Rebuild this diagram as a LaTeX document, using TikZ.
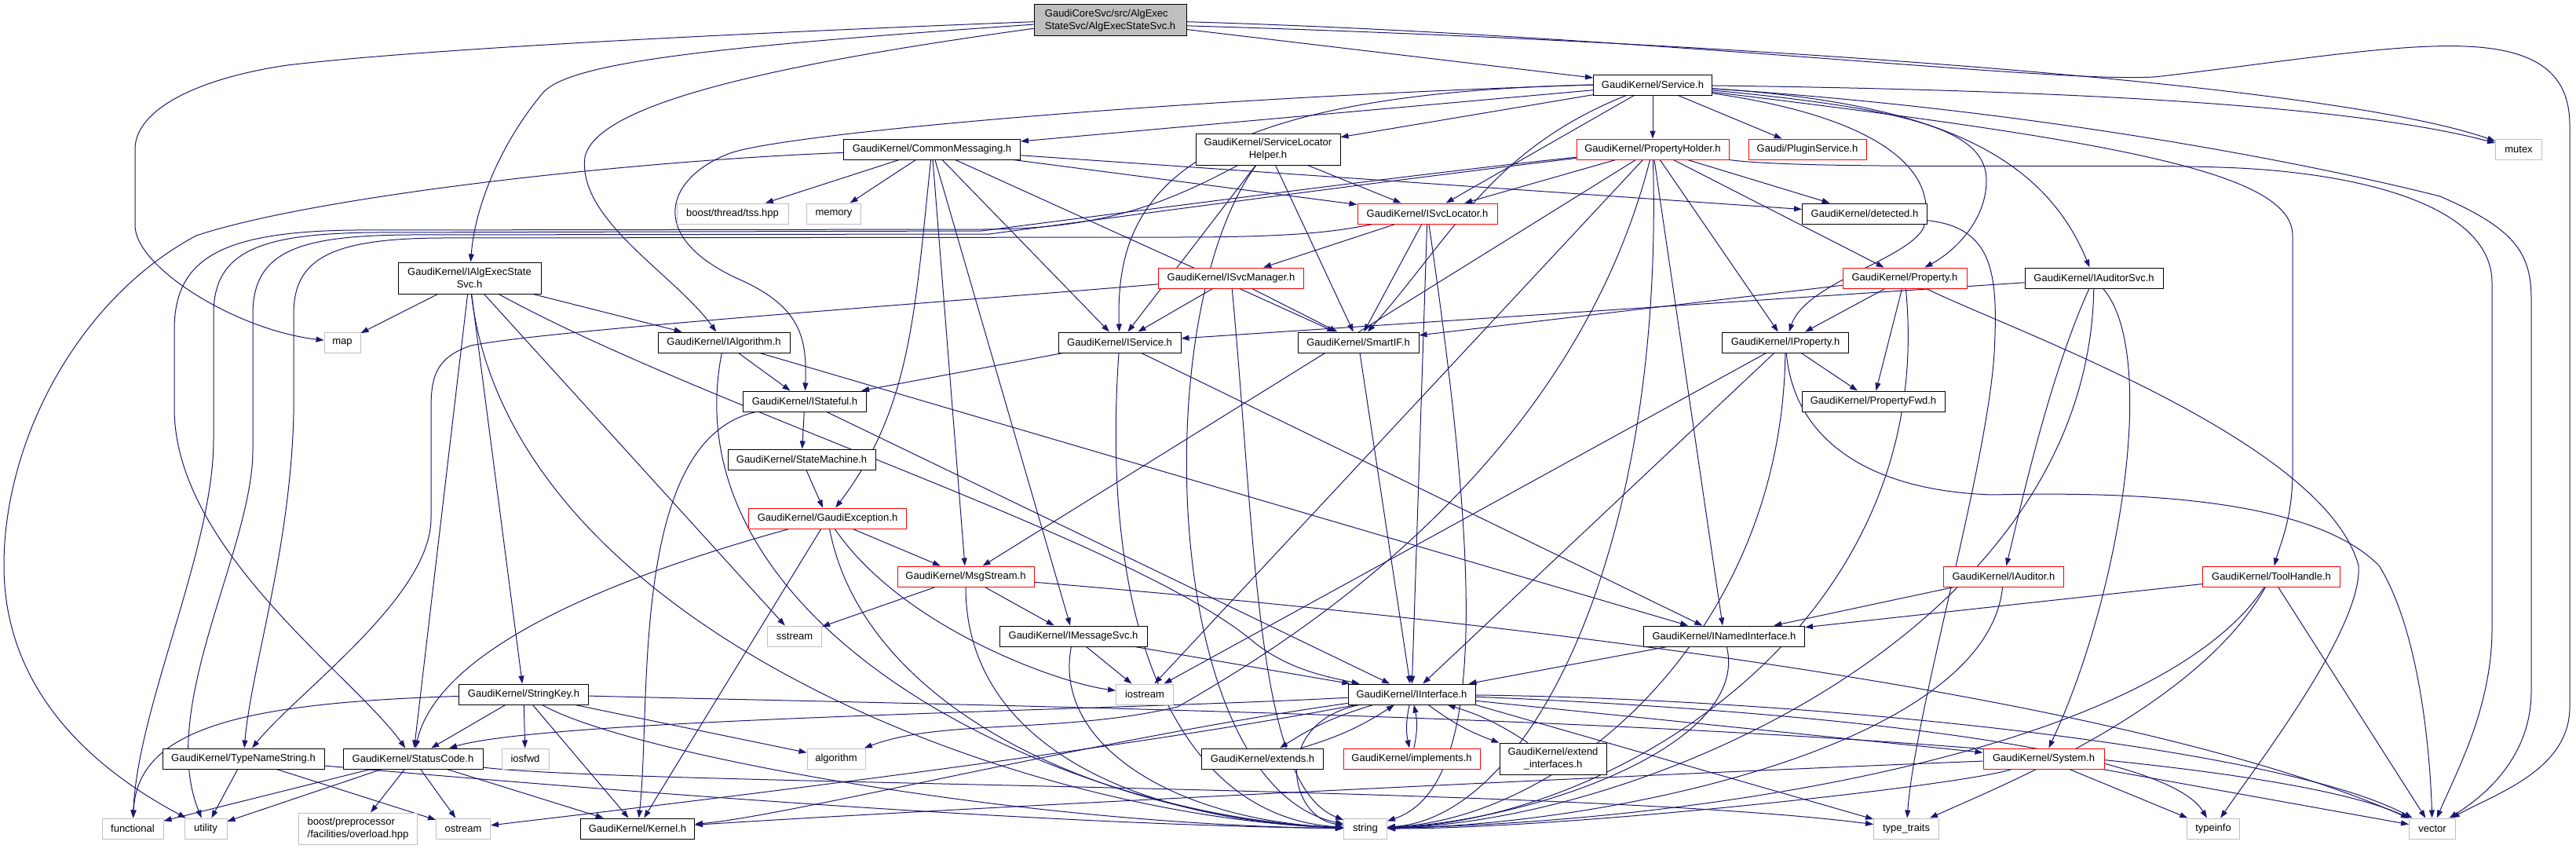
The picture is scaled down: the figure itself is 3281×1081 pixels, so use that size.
\documentclass[tikz,border=0pt]{standalone}
\usepackage{fontspec}
\setmainfont{Liberation Sans}
\usetikzlibrary{arrows.meta}
\definecolor{edgeblue}{HTML}{191970}
\definecolor{sysgray}{HTML}{BFBFBF}
\newcommand{\hfont}{\fontsize{13pt}{15.7pt}\selectfont}
\pgfdeclarelayer{edgelayer}
\pgfsetlayers{edgelayer,main}
\tikzset{
  hdr/.style={draw=black, line width=1pt, fill=white, font=\hfont, inner sep=0pt, minimum height=26pt, align=center},
  syshdr/.style={hdr, draw=sysgray},
  trunc/.style={hdr, draw=red},
  dep/.style={draw=edgeblue, line width=1pt, -{Triangle[length=10pt,width=7pt]}},
}
\begin{document}
\begin{tikzpicture}[x=1pt, y=-1pt]
	\useasboundingbox (0,0) rectangle (3281,1081);

	\node[hdr, fill=sysgray, minimum width=194pt, minimum height=40pt, align=left] (root) at (1414,26) {GaudiCoreSvc/src/AlgExec\\StateSvc/AlgExecStateSvc.h};

	\node[hdr, minimum width=151pt] (Service) at (2105,108) {GaudiKernel/Service.h};

	\node[hdr, minimum width=225pt] (CommonMsg) at (1187,190) {GaudiKernel/CommonMessaging.h};
	\node[hdr, minimum width=184pt, minimum height=40pt] (SvcLocHelper) at (1615,190) {GaudiKernel/ServiceLocator\\Helper.h};
	\node[trunc, minimum width=194pt] (PropHolder) at (2105,190) {GaudiKernel/PropertyHolder.h};
	\node[trunc, minimum width=150pt] (PluginSvc) at (2302,190) {Gaudi/PluginService.h};
	\node[syshdr, minimum width=59pt] (mutex) at (3208,190) {mutex};

	\node[syshdr, minimum width=142pt] (tss) at (933,272) {boost/thread/tss.hpp};
	\node[syshdr, minimum width=69pt] (memory) at (1062,272) {memory};
	\node[trunc, minimum width=178pt] (ISvcLocator) at (1818,272) {GaudiKernel/ISvcLocator.h};
	\node[hdr, minimum width=159pt] (detected) at (2375,272) {GaudiKernel/detected.h};

	\node[hdr, minimum width=182pt, minimum height=40pt] (IAlgExecStateSvc) at (598,354) {GaudiKernel/IAlgExecState\\Svc.h};
	\node[trunc, minimum width=185pt] (ISvcManager) at (1568,354) {GaudiKernel/ISvcManager.h};
	\node[trunc, minimum width=158pt] (Property) at (2426,354) {GaudiKernel/Property.h};
	\node[hdr, minimum width=176pt] (IAuditorSvc) at (2667,354) {GaudiKernel/IAuditorSvc.h};

	\node[syshdr, minimum width=46pt] (map) at (436,436) {map};
	\node[hdr, minimum width=168pt] (IAlgorithm) at (922,436) {GaudiKernel/IAlgorithm.h};
	\node[hdr, minimum width=156pt] (IService) at (1426,436) {GaudiKernel/IService.h};
	\node[hdr, minimum width=154pt] (SmartIF) at (1730,436) {GaudiKernel/SmartIF.h};
	\node[hdr, minimum width=161pt] (IProperty) at (2274,436) {GaudiKernel/IProperty.h};

	\node[hdr, minimum width=157pt] (IStateful) at (1025,511) {GaudiKernel/IStateful.h};
	\node[hdr, minimum width=182pt] (PropertyFwd) at (2386,511) {GaudiKernel/PropertyFwd.h};
	\node[hdr, minimum width=188pt] (StateMachine) at (1021,585) {GaudiKernel/StateMachine.h};
	\node[trunc, minimum width=201pt] (GaudiException) at (1054,660) {GaudiKernel/GaudiException.h};

	\node[trunc, minimum width=174pt] (MsgStream) at (1230,734) {GaudiKernel/MsgStream.h};
	\node[trunc, minimum width=153pt] (IAuditor) at (2552,734) {GaudiKernel/IAuditor.h};
	\node[trunc, minimum width=175pt] (ToolHandle) at (2893,734) {GaudiKernel/ToolHandle.h};

	\node[syshdr, minimum width=69pt] (sstream) at (1012,810) {sstream};
	\node[hdr, minimum width=188pt] (IMessageSvc) at (1367,810) {GaudiKernel/IMessageSvc.h};
	\node[hdr, minimum width=205pt] (INamedInterface) at (2196,810) {GaudiKernel/INamedInterface.h};

	\node[hdr, minimum width=165pt] (StringKey) at (667,884) {GaudiKernel/StringKey.h};
	\node[syshdr, minimum width=73pt] (iostream) at (1458,884) {iostream};
	\node[hdr, minimum width=162pt] (IInterface) at (1798,884) {GaudiKernel/IInterface.h};

	\node[hdr, minimum width=206pt] (TypeNameString) at (310,966) {GaudiKernel/TypeNameString.h};
	\node[hdr, minimum width=178pt] (StatusCode) at (526,966) {GaudiKernel/StatusCode.h};
	\node[syshdr, minimum width=60pt] (iosfwd) at (669,966) {iosfwd};
	\node[syshdr, minimum width=74pt] (algorithm) at (1065,966) {algorithm};
	\node[hdr, minimum width=155pt] (extends) at (1608,966) {GaudiKernel/extends.h};
	\node[trunc, minimum width=174pt] (implements) at (1798,966) {GaudiKernel/implements.h};
	\node[hdr, minimum width=136pt, minimum height=40pt] (extendIf) at (1978,966) {GaudiKernel/extend\\\_interfaces.h};
	\node[trunc, minimum width=154pt] (System) at (2603,966) {GaudiKernel/System.h};

	\node[syshdr, minimum width=78pt] (functional) at (169,1055) {functional};
	\node[syshdr, minimum width=54pt] (utility) at (262,1055) {utility};
	\node[syshdr, minimum width=151pt, minimum height=40pt, align=left] (boostpp) at (456,1055) {boost/preprocessor\\/facilities/overload.hpp};
	\node[syshdr, minimum width=69pt] (ostream) at (590,1055) {ostream};
	\node[hdr, minimum width=145pt] (Kernel) at (812,1055) {GaudiKernel/Kernel.h};
	\node[syshdr, minimum width=55pt] (string) at (1739,1055) {string};
	\node[syshdr, minimum width=83pt] (typetraits) at (2428,1055) {type\_traits};
	\node[syshdr, minimum width=67pt] (typeinfo) at (2819,1055) {typeinfo};
	\node[syshdr, minimum width=59pt] (vector) at (3098,1055) {vector};

	\begin{pgfonlayer}{edgelayer}
	% root
	\draw[dep] (root) -- (Service);
	\draw[dep] (root.181) .. controls (1000,40) and (560,60) .. (366,83) .. controls (250,100) and (172,140) .. (172,190) -- (172,287) .. controls (172,340) and (300,420) .. (map);
	\draw[dep] (root.183) .. controls (900,60) and (720,80) .. (690,120) .. controls (640,180) and (605,260) .. (IAlgExecStateSvc);
	\draw[dep] (root.186) .. controls (1000,80) and (760,130) .. (745,200) .. controls (735,280) and (860,350) .. (IAlgorithm);
	\draw[dep] (root.356) .. controls (2100,50) and (2950,100) .. (mutex);
	\draw[dep] (root.359) .. controls (2100,45) and (2650,110) .. (2753,97) .. controls (2900,80) and (3050,55) .. (3140,59) .. controls (3240,63) and (3273,100) .. (3273,160) -- (3273,900) .. controls (3273,980) and (3180,1010) .. (vector);

	% Service.h
	\draw[dep] (Service) -- (CommonMsg);
	\draw[dep] (Service) -- (SvcLocHelper);
	\draw[dep] (Service) -- (PropHolder);
	\draw[dep] (Service) -- (PluginSvc);
	\draw[dep] (Service) -- (ISvcLocator);
	\draw[dep] (Service) .. controls (1900,190) and (1850,300) .. (SmartIF);
	\draw[dep] (Service.west) .. controls (1500,120) and (1420,250) .. (IService);
	\draw[dep] (Service.west) .. controls (1500,125) and (1000,170) .. (930,195) .. controls (850,225) and (820,300) .. (940,355) .. controls (1020,390) and (1028,430) .. (IStateful);
	\draw[dep] (Service) .. controls (2450,140) and (2530,170) .. (2530,230) .. controls (2530,280) and (2490,320) .. (Property);
	\draw[dep] (Service) .. controls (2400,150) and (2470,220) .. (2450,290) .. controls (2430,330) and (2300,360) .. (IProperty);
	\draw[dep] (Service) .. controls (2450,130) and (2600,190) .. (IAuditorSvc);
	\draw[dep] (Service) .. controls (2700,180) and (2920,220) .. (2920,300) -- (2920,600) .. controls (2920,660) and (2905,690) .. (ToolHandle);
	\draw[dep] (Service) .. controls (2650,115) and (3000,135) .. (mutex);
	\draw[dep] (Service) .. controls (2600,140) and (2950,210) .. (3108,250) .. controls (3200,290) and (3224,320) .. (3224,380) -- (3224,880) .. controls (3224,960) and (3170,1010) .. (vector);

	% CommonMessaging.h
	\draw[dep] (CommonMsg) -- (tss);
	\draw[dep] (CommonMsg) -- (memory);
	\draw[dep] (CommonMsg) -- (MsgStream);
	\draw[dep] (CommonMsg) -- (IMessageSvc);
	\draw[dep] (CommonMsg) -- (IService);
	\draw[dep] (CommonMsg) -- (ISvcLocator);
	\draw[dep] (CommonMsg) -- (SmartIF);
	\draw[dep] (CommonMsg) -- (detected);
	\draw[dep] (CommonMsg) .. controls (1165,400) and (1160,520) .. (GaudiException);
	\draw[dep] (CommonMsg) .. controls (800,205) and (400,250) .. (250,300) .. controls (100,380) and (5,560) .. (5,720) .. controls (5,900) and (150,995) .. (utility);

	% ServiceLocatorHelper.h
	\draw[dep] (SvcLocHelper) -- (ISvcLocator);
	\draw[dep] (SvcLocHelper) -- (IService);
	\draw[dep] (SvcLocHelper) -- (SmartIF);
	\draw[dep] (SvcLocHelper) .. controls (1460,400) and (1480,1000) .. (string);
	\draw[dep] (SvcLocHelper) .. controls (1480,262) and (1400,292) .. (1250,292) -- (450,293) .. controls (280,295) and (222,330) .. (222,420) -- (222,520) .. controls (222,700) and (450,860) .. (StatusCode);

	% PropertyHolder.h
	\draw[dep] (PropHolder) -- (ISvcLocator);
	\draw[dep] (PropHolder) -- (MsgStream);
	\draw[dep] (PropHolder) -- (iostream);
	\draw[dep] (PropHolder) -- (INamedInterface);
	\draw[dep] (PropHolder) -- (IProperty);
	\draw[dep] (PropHolder) -- (Property);
	\draw[dep] (PropHolder) -- (detected);
	\draw[dep] (PropHolder) .. controls (2120,700) and (1950,1040) .. (string);
	\draw[dep] (PropHolder) .. controls (2300,217) and (2700,208) .. (2826,213) .. controls (3000,218) and (3174,260) .. (3174,360) -- (3174,800) .. controls (3174,900) and (3130,980) .. (vector);
	\draw[dep] (PropHolder) .. controls (1800,222) and (1500,262) .. (1250,294) -- (480,296) .. controls (330,297) and (272,320) .. (272,400) -- (272,560) .. controls (272,700) and (175,900) .. (functional);
	\draw[dep] (PropHolder) .. controls (1800,226) and (1500,266) .. (1260,298) -- (520,299) .. controls (380,300) and (322,320) .. (322,400) -- (322,573) .. controls (322,700) and (200,900) .. (utility);
	\draw[dep] (PropHolder) .. controls (2000,600) and (1640,820) .. (1500,900) .. controls (1350,935) and (1200,915) .. (algorithm);

	% ISvcLocator.h, ISvcManager.h
	\draw[dep] (ISvcLocator) -- (ISvcManager);
	\draw[dep] (ISvcLocator) -- (SmartIF);
	\draw[dep] (ISvcLocator) -- (IInterface);
	\draw[dep] (ISvcLocator) .. controls (1880,700) and (1900,1000) .. (string);
	\draw[dep] (ISvcLocator) .. controls (1700,295) and (1650,302) .. (1500,302) -- (560,303) .. controls (420,304) and (374,330) .. (374,400) -- (374,527) .. controls (370,700) and (320,850) .. (TypeNameString);
	\draw[dep] (ISvcManager) -- (IService);
	\draw[dep] (ISvcManager) -- (SmartIF);
	\draw[dep] (ISvcManager) .. controls (1600,700) and (1600,1000) .. (string);
	\draw[dep] (ISvcManager) .. controls (1200,385) and (700,420) .. (600,440) .. controls (555,455) and (549,480) .. (549,520) -- (549,660) .. controls (549,760) and (380,880) .. (TypeNameString);

	% IAlgExecStateSvc.h
	\draw[dep] (IAlgExecStateSvc) -- (map);
	\draw[dep] (IAlgExecStateSvc) -- (IAlgorithm);
	\draw[dep] (IAlgExecStateSvc) -- (StatusCode);
	\draw[dep] (IAlgExecStateSvc) -- (StringKey);
	\draw[dep] (IAlgExecStateSvc) -- (sstream);
	\draw[dep] (IAlgExecStateSvc) .. controls (900,520) and (1450,690) .. (1600,820) .. controls (1640,850) and (1680,860) .. (IInterface);
	\draw[dep] (IAlgExecStateSvc) .. controls (650,800) and (1300,1040) .. (string);

	% IAlgorithm.h, IService.h, IStateful.h
	\draw[dep] (IAlgorithm) -- (IStateful);
	\draw[dep] (IAlgorithm) -- (INamedInterface);
	\draw[dep] (IAlgorithm) .. controls (850,800) and (1350,1040) .. (string);
	\draw[dep] (IService) -- (IStateful);
	\draw[dep] (IService) -- (INamedInterface);
	\draw[dep] (IService) .. controls (1400,800) and (1500,1040) .. (string);
	\draw[dep] (IStateful) -- (StateMachine);
	\draw[dep] (IStateful) -- (IInterface);
	\draw[dep] (IStateful) .. controls (800,560) and (830,900) .. (Kernel);
	\draw[dep] (StateMachine) -- (GaudiException);

	% GaudiException.h, MsgStream.h, IMessageSvc.h
	\draw[dep] (GaudiException) -- (MsgStream);
	\draw[dep] (GaudiException) -- (Kernel);
	\draw[dep] (GaudiException) .. controls (800,730) and (560,820) .. (StatusCode);
	\draw[dep] (GaudiException) .. controls (1150,800) and (1350,870) .. (iostream);
	\draw[dep] (GaudiException) .. controls (1100,900) and (1400,1040) .. (string);
	\draw[dep] (MsgStream) -- (sstream);
	\draw[dep] (MsgStream) -- (IMessageSvc);
	\draw[dep] (MsgStream) .. controls (1230,950) and (1450,1045) .. (string);
	\draw[dep] (MsgStream) .. controls (1900,790) and (2700,880) .. (vector);
	\draw[dep] (IMessageSvc) -- (iostream);
	\draw[dep] (IMessageSvc) -- (IInterface);
	\draw[dep] (IMessageSvc) .. controls (1340,950) and (1500,1045) .. (string);
	\draw[dep] (INamedInterface) -- (IInterface);
	\draw[dep] (INamedInterface) .. controls (2230,950) and (1950,1045) .. (string);

	% IInterface.h
	\draw[dep] (IInterface) to[bend right=8] (extends);
	\draw[dep] (extends) to[bend right=8] (IInterface);
	\draw[dep] (IInterface) to[bend right=12] (implements);
	\draw[dep] (implements) to[bend right=12] (IInterface);
	\draw[dep] (IInterface) to[bend right=8] (extendIf);
	\draw[dep] (extendIf) to[bend right=8] (IInterface);
	\draw[dep] (IInterface) -- (System);
	\draw[dep] (IInterface.south east) -- (typetraits);
	\draw[dep] (IInterface) .. controls (1620,920) and (1640,1040) .. (string);
	\draw[dep] (IInterface) .. controls (1400,905) and (700,915) .. (StatusCode);
	\draw[dep] (IInterface) .. controls (1400,940) and (1000,1040) .. (Kernel);
	\draw[dep] (IInterface) .. controls (1400,960) and (800,1030) .. (ostream);
	\draw[dep] (IInterface) .. controls (2200,900) and (2750,940) .. (typeinfo);
	\draw[dep] (IInterface) .. controls (2300,890) and (2900,950) .. (vector);

	% StringKey.h, TypeNameString.h, StatusCode.h
	\draw[dep] (StringKey) -- (StatusCode);
	\draw[dep] (StringKey) -- (iosfwd);
	\draw[dep] (StringKey) -- (Kernel);
	\draw[dep] (StringKey) -- (algorithm);
	\draw[dep] (StringKey) .. controls (300,895) and (175,930) .. (functional);
	\draw[dep] (StringKey) .. controls (800,960) and (1300,1050) .. (string);
	\draw[dep] (StringKey) .. controls (1300,900) and (2800,920) .. (vector);
	\draw[dep] (TypeNameString) -- (utility);
	\draw[dep] (TypeNameString) -- (ostream);
	\draw[dep] (TypeNameString) .. controls (700,1000) and (1300,1050) .. (string);
	\draw[dep] (StatusCode) -- (functional);
	\draw[dep] (StatusCode) -- (utility);
	\draw[dep] (StatusCode) -- (boostpp);
	\draw[dep] (StatusCode) -- (ostream);
	\draw[dep] (StatusCode) -- (Kernel);
	\draw[dep] (StatusCode) .. controls (800,1000) and (2000,1000) .. (typetraits);

	% System.h
	\draw[dep] (System) -- (typeinfo);
	\draw[dep] (System) -- (vector);
	\draw[dep] (System) .. controls (2000,990) and (1200,1030) .. (Kernel);
	\draw[dep] (System) .. controls (2500,1000) and (2000,1055) .. (string);

	% IAuditorSvc.h, IAuditor.h, ToolHandle.h
	\draw[dep] (IAuditorSvc) -- (IService);
	\draw[dep] (IAuditorSvc) .. controls (2610,480) and (2575,640) .. (IAuditor);
	\draw[dep] (IAuditorSvc) .. controls (2750,450) and (2700,760) .. (System);
	\draw[dep] (IAuditorSvc) .. controls (2660,800) and (2100,1045) .. (string);
	\draw[dep] (IAuditor) -- (INamedInterface);
	\draw[dep] (IAuditor) .. controls (2530,950) and (2050,1050) .. (string);
	\draw[dep] (ToolHandle) -- (INamedInterface);
	\draw[dep] (ToolHandle) -- (vector);
	\draw[dep] (ToolHandle) .. controls (2800,900) and (2550,1000) .. (typetraits);
	\draw[dep] (ToolHandle) .. controls (2750,950) and (2200,1045) .. (string);

	% Property.h, IProperty.h, SmartIF.h, detected.h
	\draw[dep] (Property) -- (IProperty);
	\draw[dep] (Property) -- (PropertyFwd);
	\draw[dep] (Property) -- (SmartIF);
	\draw[dep] (Property) .. controls (2470,800) and (2050,1045) .. (string);
	\draw[dep] (Property) .. controls (2560,420) and (2960,560) .. (3004,720) .. controls (3010,800) and (2870,980) .. (typeinfo);
	\draw[dep] (IProperty) -- (PropertyFwd);
	\draw[dep] (IProperty) -- (IInterface);
	\draw[dep] (IProperty) -- (iostream);
	\draw[dep] (IProperty) .. controls (2270,800) and (2000,1040) .. (string);
	\draw[dep] (IProperty) .. controls (2285,560) and (2380,625) .. (2538,630) .. controls (2750,625) and (2950,640) .. (3030,720) .. controls (3080,800) and (3095,950) .. (vector);
	\draw[dep] (SmartIF) -- (IInterface);
	\draw[dep] (detected) .. controls (2540,290) and (2545,350) .. (2540,450) .. controls (2530,600) and (2440,900) .. (typetraits);
	\end{pgfonlayer}
\end{tikzpicture}
\end{document}
